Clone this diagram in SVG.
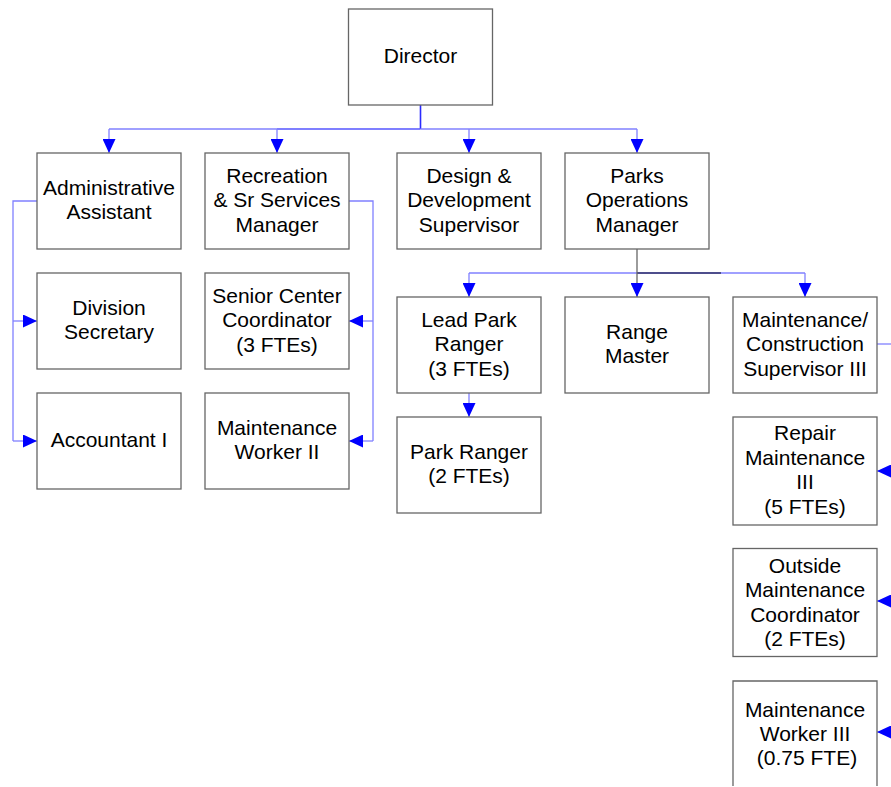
<svg xmlns="http://www.w3.org/2000/svg" width="891" height="787" viewBox="0 0 891 787">
<style>
.box{fill:#fff;stroke:#666;stroke-width:1.3}
.t{font-family:"Liberation Sans",Arial,sans-serif;font-size:21px;fill:#000;text-anchor:middle}
.c{fill:none;stroke:#8080ff;stroke-width:1.3}
</style>
<defs>
<marker id="arr" viewBox="0 0 14 13" refX="14" refY="6.5" markerUnits="userSpaceOnUse" markerWidth="14" markerHeight="13" orient="auto">
<path d="M0,0 L14,6.5 L0,13 Z" fill="#0000ff"/>
</marker>
</defs>
<rect width="891" height="787" fill="#fff"/>
<g id="connectors">
<path d="M420.5,105 V129" fill="none" stroke="#2b2bff" stroke-width="1.6"/>
<path class="c" d="M109,129 H277"/>
<path d="M277,129 H420.5" fill="none" stroke="#5555ff" stroke-width="1.4"/>
<path class="c" d="M420.5,129 H637"/>
<path class="c" d="M109,129 V153" marker-end="url(#arr)"/>
<path class="c" d="M277,129 V153" marker-end="url(#arr)"/>
<path class="c" d="M469,129 V153" marker-end="url(#arr)"/>
<path class="c" d="M637,129 V153" marker-end="url(#arr)"/>
<path class="c" d="M37,201 H13 V441"/>
<path class="c" d="M13,321 H37" marker-end="url(#arr)"/>
<path class="c" d="M13,441 H37" marker-end="url(#arr)"/>
<path class="c" d="M349,201 H373 V441"/>
<path class="c" d="M373,321 H349" marker-end="url(#arr)"/>
<path class="c" d="M373,441 H349" marker-end="url(#arr)"/>
<path class="c" d="M469,273 H805"/>
<path d="M637,273 H721" fill="none" stroke="#333366" stroke-width="1.4"/>
<path class="c" d="M469,273 V297" marker-end="url(#arr)"/>
<path d="M637,249 V297" fill="none" stroke="#666" stroke-width="1.3" marker-end="url(#arr)"/>
<path class="c" d="M805,273 V297" marker-end="url(#arr)"/>
<path class="c" d="M469,393 V417" marker-end="url(#arr)"/>
<path class="c" d="M877,344 H895"/>
<path class="c" d="M900,471 H877" marker-end="url(#arr)"/>
<path class="c" d="M900,601 H877" marker-end="url(#arr)"/>
<path class="c" d="M900,732 H877" marker-end="url(#arr)"/>
</g>
<g id="director"><rect class="box" x="348.5" y="9" width="144" height="96"/><text class="t" x="420.5" y="63">Director</text></g>
<g id="admin"><rect class="box" x="37" y="153" width="144" height="96"/><text class="t" x="109" y="194.8">Administrative</text><text class="t" x="109" y="219.3">Assistant</text></g>
<g id="recreation"><rect class="box" x="205" y="153" width="144" height="96"/><text class="t" x="277" y="182.5">Recreation</text><text class="t" x="277" y="207">&amp; Sr Services</text><text class="t" x="277" y="231.5">Manager</text></g>
<g id="design"><rect class="box" x="397" y="153" width="144" height="96"/><text class="t" x="469" y="182.5">Design &amp;</text><text class="t" x="469" y="207">Development</text><text class="t" x="469" y="231.5">Supervisor</text></g>
<g id="parks"><rect class="box" x="565" y="153" width="144" height="96"/><text class="t" x="637" y="182.5">Parks</text><text class="t" x="637" y="207">Operations</text><text class="t" x="637" y="231.5">Manager</text></g>
<g id="division"><rect class="box" x="37" y="273" width="144" height="96"/><text class="t" x="109" y="314.8">Division</text><text class="t" x="109" y="339.3">Secretary</text></g>
<g id="senior"><rect class="box" x="205" y="273" width="144" height="96"/><text class="t" x="277" y="302.5">Senior Center</text><text class="t" x="277" y="327">Coordinator</text><text class="t" x="277" y="351.5">(3 FTEs)</text></g>
<g id="accountant"><rect class="box" x="37" y="393" width="144" height="96"/><text class="t" x="109" y="447">Accountant I</text></g>
<g id="mw2"><rect class="box" x="205" y="393" width="144" height="96"/><text class="t" x="277" y="434.8">Maintenance</text><text class="t" x="277" y="459.3">Worker II</text></g>
<g id="leadranger"><rect class="box" x="397" y="297" width="144" height="96"/><text class="t" x="469" y="326.5">Lead Park</text><text class="t" x="469" y="351">Ranger</text><text class="t" x="469" y="375.5">(3 FTEs)</text></g>
<g id="rangemaster"><rect class="box" x="565" y="297" width="144" height="96"/><text class="t" x="637" y="338.8">Range</text><text class="t" x="637" y="363.3">Master</text></g>
<g id="mcs3"><rect class="box" x="733" y="297" width="144" height="96"/><text class="t" x="805" y="326.5">Maintenance/</text><text class="t" x="805" y="351">Construction</text><text class="t" x="805" y="375.5">Supervisor III</text></g>
<g id="parkranger"><rect class="box" x="397" y="417" width="144" height="96"/><text class="t" x="469" y="458.8">Park Ranger</text><text class="t" x="469" y="483.3">(2 FTEs)</text></g>
<g id="repair"><rect class="box" x="733" y="417" width="144" height="108"/><text class="t" x="805" y="440">Repair</text><text class="t" x="805" y="464.5">Maintenance</text><text class="t" x="805" y="489">III</text><text class="t" x="805" y="513.5">(5 FTEs)</text></g>
<g id="outside"><rect class="box" x="733" y="548.5" width="144" height="108"/><text class="t" x="805" y="572.5">Outside</text><text class="t" x="805" y="597">Maintenance</text><text class="t" x="805" y="621.5">Coordinator</text><text class="t" x="805" y="646">(2 FTEs)</text></g>
<g id="mw3"><path class="box" d="M733,786 V681 H877 V786"/><text class="t" x="805" y="717">Maintenance</text><text class="t" x="805" y="741">Worker III</text><text class="t" x="807" y="765">(0.75 FTE)</text></g>
</svg>
